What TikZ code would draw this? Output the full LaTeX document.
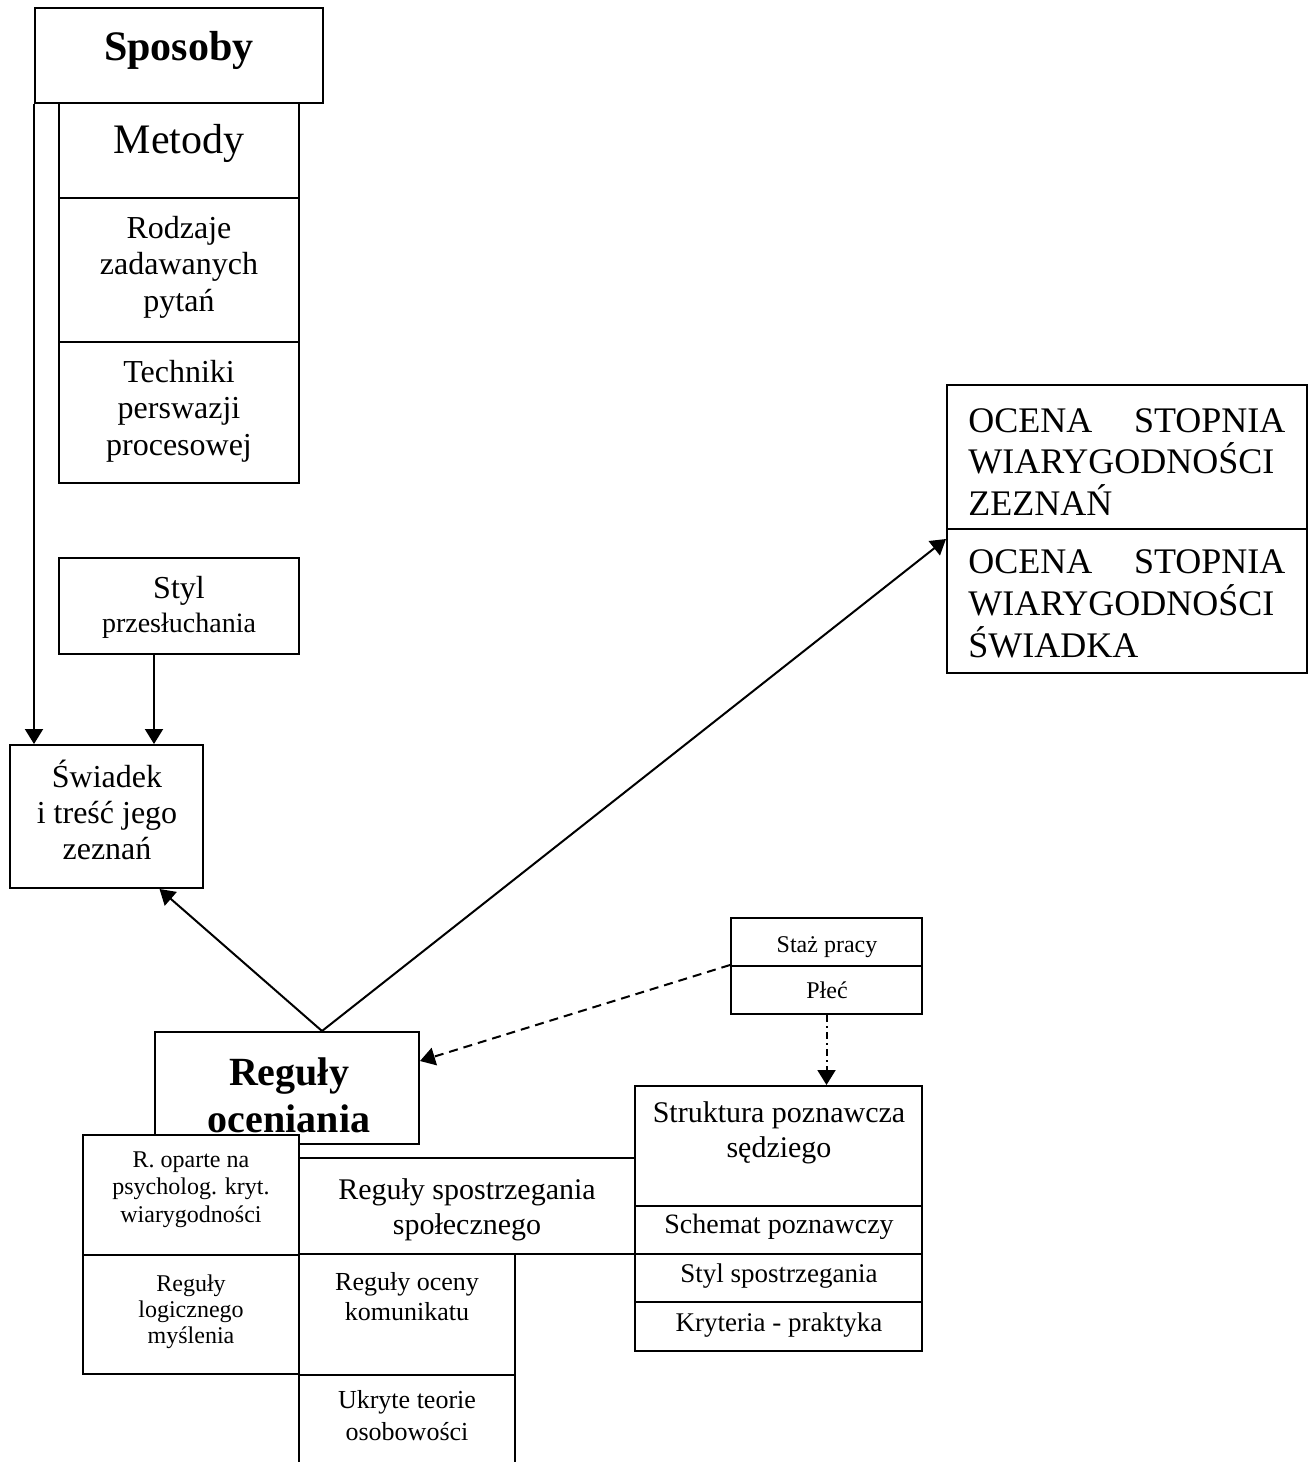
\documentclass[tikz,border=0pt]{standalone}
\usepackage{fontspec}
\setmainfont{Liberation Serif}
\usetikzlibrary{arrows.meta,fit}
\newcommand\fs[2]{\fontsize{#1}{#2}\selectfont}
\newcommand\bx[5]{\node[box, fit={(#2,#3) (#4,#5)}] (#1) {};}
\begin{document}
\begin{tikzpicture}[x=0.5pt,y=-0.5pt,
  box/.style={draw, line width=1pt, fill=white, inner sep=0pt, rectangle},
  txt/.style={inner sep=0pt, align=center, anchor=base},
  arr/.style={line width=1pt, -{Triangle[length=7.5pt,width=9pt]}},
]
\useasboundingbox (0,0) rectangle (1314,1462);
\fill[white] (0,0) rectangle (1314,1462);

% top-left column
\bx{sposoby}{35}{8}{323}{103}
\bx{metody}{59}{103}{299}{198}
\bx{rodzaje}{59}{198}{299}{342}
\bx{techniki}{59}{342}{299}{483}
\node[txt, font=\fs{21}{24}\bfseries] (tsposoby) at (179,60) {Sposoby};
\node[txt, font=\fs{21}{24}] (tmetody) at (179,153) {Metody};
\node[txt, font=\fs{16}{18.35}] (trodzaje) at (179,311.4) {Rodzaje\\zadawanych\\pytań};
\node[txt, font=\fs{16}{18.35}] (ttechniki) at (179,455.4) {Techniki\\perswazji\\procesowej};

\bx{styl}{59}{558}{299}{654}
\node[txt, font=\fs{14}{17}] (tstyl) at (179,632) {{\fs{16}{17}Styl}\\przesłuchania};
\bx{swiadek}{10}{745}{203}{888}
\node[txt, font=\fs{16}{18}] (tswiadek) at (107,859) {Świadek\\i treść jego\\zeznań};

% right boxes
\bx{ocena1}{947}{385}{1307}{529}
\bx{ocena2}{947}{529}{1307}{673}
\node[txt, anchor=base west, align=left, font=\fs{18}{20.85}] (tocena1) at (968,515.4)
  {\makebox[158.5pt][s]{OCENA STOPNIA}\\WIARYGODNOŚCI\\ZEZNAŃ};
\node[txt, anchor=base west, align=left, font=\fs{18}{20.85}] (tocena2) at (968,657)
  {\makebox[158.5pt][s]{OCENA STOPNIA}\\WIARYGODNOŚCI\\ŚWIADKA};

\bx{staz}{731}{918}{922}{966}
\bx{plec}{731}{966}{922}{1014}
\node[txt, font=\fs{12}{14}] (tstaz) at (827,952) {Staż pracy};
\node[txt, font=\fs{12}{14}] (tplec) at (827,998) {Płeć};

% Reguly oceniania
\bx{oceniania}{155}{1032}{419}{1144}
\begin{scope}
\clip (155,1032) rectangle (419,1133);
\node[txt, font=\fs{20}{23.5}\bfseries] (toceniania) at (289,1132) {Reguły\\oceniania};
\end{scope}

% Struktura column
\bx{struktura}{635}{1086}{922}{1206}
\bx{schemat}{635}{1206}{922}{1254}
\bx{stylsp}{635}{1254}{922}{1302}
\bx{kryteria}{635}{1302}{922}{1351}
\node[txt, font=\fs{15}{17.5}] (tstruktura) at (779,1157) {Struktura poznawcza\\sędziego};
\begin{scope}
\clip (636,1207) rectangle (921,1242);
\node[txt, font=\fs{14}{16}] (tschemat) at (779,1233) {Schemat poznawczy};
\end{scope}
\begin{scope}
\clip (636,1255) rectangle (921,1290);
\node[txt, font=\fs{13.5}{16}] (tstylsp) at (779,1282) {Styl spostrzegania};
\end{scope}
\begin{scope}
\clip (636,1303) rectangle (921,1338);
\node[txt, font=\fs{13.5}{16}] (tkryteria) at (779,1331) {Kryteria - praktyka};
\end{scope}

% bottom-left group
\bx{spostrz}{299}{1158}{635}{1254}
\node[txt, font=\fs{15}{17.5}] (tspostrz) at (467,1234) {Reguły spostrzegania\\społecznego};
\bx{roparte}{83}{1135}{299}{1255}
\node[txt, font=\fs{12}{13.75}] (troparte) at (191,1222) {R. oparte na\\psycholog. kryt.\\wiarygodności};
\bx{logiczne}{83}{1255}{299}{1374}
\node[txt, font=\fs{12}{13}] (tlogiczne) at (191,1343) {Reguły\\logicznego\\myślenia};
\bx{komunikat}{299}{1254}{515}{1375}
\node[txt, font=\fs{13}{15}] (tkomunikat) at (407,1320) {Reguły oceny\\komunikatu};
\node[inner sep=0pt, fit={(299,1375) (515,1462)}] (ukryte) {};
\draw[line width=1pt] (ukryte.south west) -- (ukryte.north west) -- (ukryte.north east) -- (ukryte.south east);
\node[txt, font=\fs{13}{16}] (tukryte) at (407,1440) {Ukryte teorie\\osobowości};

% connectors
\coordinate (apex) at ([xshift=17.5pt]oceniania.north);
\draw[arr] (sposoby.south west) -- (sposoby.south west |- swiadek.north);
\draw[arr] ([xshift=-12.5pt]styl.south) -- ([xshift=-12.5pt]styl.south |- swiadek.north);
\draw[arr] (apex) -- ([xshift=26.5pt]swiadek.south);
\draw[arr] (apex) -- ([yshift=-5.5pt]ocena2.north west);
\draw[arr, dash pattern=on 4.5pt off 3pt] (plec.north west) -- ([yshift=13.5pt]oceniania.east);
\draw[arr, dash pattern=on 3.5pt off 2pt on 1pt off 2pt] (plec.south) -- (plec.south |- struktura.north);
\end{tikzpicture}
\end{document}
